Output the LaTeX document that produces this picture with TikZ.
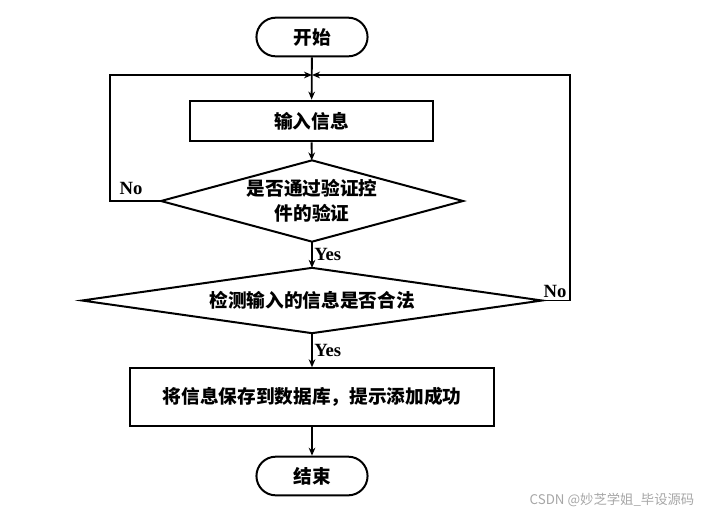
\documentclass[tikz,border=0pt]{standalone}
\usepackage{fontspec}
\setmainfont{Liberation Serif}
\newfontfamily\cjk{Noto Sans CJK SC}
\usetikzlibrary{shapes.geometric,shapes.misc,arrows.meta}

\tikzset{
  terminal/.style={rounded rectangle, draw, line width=1.5pt, minimum width=90pt, minimum height=29pt, font=\cjk\bfseries\fontsize{14}{17}\selectfont},
  process/.style={rectangle, draw, line width=1.6pt, font=\cjk\bfseries\fontsize{14}{17}\selectfont},
  decision/.style={diamond, draw, line width=1.5pt, inner sep=0pt, outer sep=0pt, align=center, font=\cjk\bfseries\fontsize{14}{19}\selectfont},
  arrow/.style={line width=1.4pt, -{Stealth[length=6pt,width=5pt]}},
  tag/.style={font=\bfseries\fontsize{14}{16}\selectfont, inner sep=1pt}
}

\begin{document}
\begin{tikzpicture}[x=0.75pt, y=-0.75pt]
\useasboundingbox (0,0) rectangle (705,515);

% Nodes
\node [terminal] (start) at (312,37) {开始};
\node [process, minimum width=182pt, minimum height=30.5pt] (input) at (311.5,121) {输入信息};
\node [decision, aspect=3.71, minimum width=226.5pt, minimum height=61pt] (check) at (312,201) {是否通过验证控\\件的验证};
\node [decision, aspect=7.04, minimum width=345pt, minimum height=49pt] (legal) at (312,300.5) {检测输入的信息是否合法};
\node [process, minimum width=273pt, minimum height=43pt] (save) at (312,397) {将信息保存到数据库，提示添加成功};
\node [terminal] (stop) at (312,476) {结束};

% Loop corners
\coordinate (merge) at (312,75);
\coordinate (lefttop) at (110,75);
\coordinate (leftbot) at (110,201);
\coordinate (righttop) at (570,75);
\coordinate (rightbot) at (570,300.5);

% Main flow
\draw [arrow] (start) -- (input);
\draw [arrow] (input) -- (check);
\draw [arrow] (check) -- node [tag, right] {Yes} (legal);
\draw [arrow] (legal) -- node [tag, right] {Yes} (save);
\draw [arrow] (save) -- (stop);

% Loops back
\draw [arrow] (check.west) -- (leftbot) -- (lefttop) -- (merge);
\draw [arrow] (legal.east) -- (rightbot) -- (righttop) -- (merge);
\node [tag] (noleft) at (131,188) {No};
\node [tag] (noright) at (555,291) {No};

% Watermark
\node [font=\cjk\fontsize{10}{12}\selectfont, text=gray!70] (mark) at (612,500) {CSDN @妙芝学姐\_毕设源码};
\end{tikzpicture}
\end{document}
